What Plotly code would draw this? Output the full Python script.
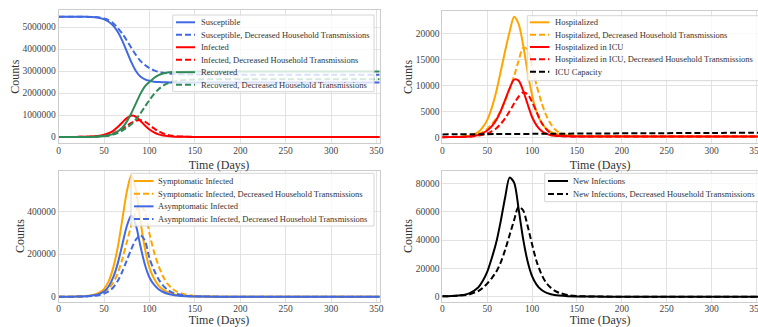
import plotly.graph_objects as go

W, H = 758, 327
FONT = "Liberation Serif, Times New Roman, DejaVu Serif, serif"
TXT = "#333333"
TICK = "#444444"
GRID = "#e2e2e2"
FRAME = "#cccccc"

BLUE = "#4169E1"
RED = "#FF0000"
GREEN = "#2E8B57"
ORANGE = "#FFA500"
BLACK = "#000000"

# ---------------- data ----------------
days = [0, 10, 20, 30, 40, 45, 50, 55, 60, 65, 70, 75, 80, 85, 90, 95, 100, 105,
        110, 115, 120, 125, 130, 140, 150, 160, 180, 200, 250, 300, 360]

susceptible = [5470000, 5470000, 5468000, 5462000, 5440000, 5410000, 5350000, 5240000, 5060000, 4780000,
               4380000, 3890000, 3400000, 3000000, 2750000, 2620000, 2555000, 2515000, 2495000, 2487000,
               2483000, 2481000, 2480000, 2479000, 2479000, 2478000, 2478000, 2478000, 2478000, 2478000, 2478000]
susceptible_dec = [5470000, 5470000, 5469000, 5465000, 5450000, 5430000, 5390000, 5310000, 5170000, 4960000,
                   4700000, 4390000, 4050000, 3730000, 3460000, 3270000, 3130000, 3030000, 2960000, 2920000,
                   2890000, 2870000, 2860000, 2845000, 2840000, 2838000, 2836000, 2835000, 2835000, 2835000, 2835000]
infected = [0, 2000, 5000, 12000, 35000, 60000, 100000, 170000, 280000, 450000, 660000, 860000, 970000,
            920000, 740000, 520000, 340000, 210000, 120000, 70000, 40000, 25000, 15000, 6000, 3000, 1000,
            0, 0, 0, 0, 0]
infected_dec = [0, 2000, 4000, 10000, 25000, 40000, 65000, 100000, 160000, 250000, 370000, 510000, 640000,
                740000, 770000, 700000, 550000, 390000, 260000, 160000, 100000, 60000, 35000, 12000, 4000,
                2000, 0, 0, 0, 0, 0]
recovered = [0, 0, 2000, 5000, 15000, 30000, 50000, 80000, 140000, 250000, 420000, 700000, 1080000, 1520000,
             1960000, 2300000, 2500000, 2680000, 2810000, 2890000, 2930000, 2950000, 2960000, 2970000, 2975000,
             2978000, 2980000, 2980000, 2980000, 2980000, 2980000]
recovered_dec = [0, 0, 1000, 3000, 10000, 20000, 35000, 60000, 110000, 180000, 290000, 420000, 580000, 800000,
                 1070000, 1380000, 1680000, 1950000, 2170000, 2330000, 2440000, 2510000, 2550000, 2590000,
                 2610000, 2620000, 2625000, 2628000, 2630000, 2630000, 2630000]

hospitalized = [50, 60, 100, 300, 1000, 1900, 3300, 5600, 8700, 12600, 16600, 20300, 23200, 21800, 17800,
                12600, 8100, 4900, 2900, 1800, 1100, 750, 550, 350, 250, 210, 190, 180, 170, 165, 160]
hospitalized_dec = [50, 55, 80, 220, 600, 1000, 1600, 2500, 3600, 5100, 7000, 9300, 11800, 14700, 17200,
                    16900, 13600, 10000, 7000, 4500, 2800, 1600, 950, 400, 250, 210, 190, 180, 170, 165, 160]
icu = [30, 40, 60, 150, 450, 800, 1300, 2100, 3300, 5000, 7200, 9400, 11100, 10900, 9000, 6400, 3900, 2300,
       1300, 750, 450, 300, 230, 180, 160, 150, 150, 150, 150, 150, 150]
icu_dec = [30, 40, 55, 120, 320, 500, 750, 1150, 1700, 2550, 3650, 5000, 6500, 7800, 8600, 8300, 6800, 4900,
           3000, 1700, 900, 500, 300, 190, 160, 150, 150, 150, 150, 150, 150]
icu_capacity_days = [0, 60, 120, 180, 240, 300, 360]
icu_capacity = [560, 620, 680, 740, 790, 840, 890]

symptomatic = [0, 200, 800, 3000, 11000, 20000, 37000, 72000, 135000, 230000, 360000, 490000, 570000,
               500000, 355000, 225000, 135000, 85000, 52000, 33000, 21000, 13000, 8500, 3500, 1500, 600,
               100, 0, 0, 0, 0]
symptomatic_dec = [0, 150, 550, 2000, 7000, 12500, 22000, 38000, 65000, 110000, 175000, 255000, 335000,
                   400000, 430000, 395000, 295000, 210000, 145000, 95000, 60000, 38000, 24000, 9500, 3800,
                   1500, 250, 50, 0, 0, 0]
asymptomatic = [0, 150, 550, 2000, 7500, 13500, 25000, 48000, 90000, 155000, 242000, 330000, 380000,
                335000, 237000, 150000, 90000, 56000, 35000, 22000, 14000, 9000, 5600, 2300, 1000, 400,
                70, 0, 0, 0, 0]
asymptomatic_dec = [0, 100, 370, 1300, 4700, 8300, 15000, 25000, 43000, 73000, 117000, 170000, 223000,
                    267000, 288000, 262000, 180000, 125000, 82000, 52000, 32000, 20000, 13000, 5000, 2000,
                    800, 150, 30, 0, 0, 0]

new_infections = [300, 500, 1000, 2400, 6500, 11000, 17500, 27000, 38000, 53000, 70000, 84000, 80500,
                  62000, 41000, 25000, 14500, 8500, 5000, 3000, 1900, 1200, 800, 350, 200, 100, 50, 20, 0, 0, 0]
new_infections_dec = [300, 450, 800, 1600, 4000, 6200, 9200, 13000, 17500, 24000, 33000, 43500, 54000,
                      63500, 61000, 50000, 37000, 25000, 16500, 10500, 6800, 4300, 2800, 1100, 500, 250, 80,
                      30, 5, 0, 0]

x_ticks = [0, 50, 100, 150, 200, 250, 300, 350]
y_ticks_tl = [0, 1000000, 2000000, 3000000, 4000000, 5000000]
y_ticks_tr = [0, 5000, 10000, 15000, 20000]
y_ticks_bl = [0, 200000, 400000]
y_ticks_br = [0, 20000, 40000, 60000, 80000]

DASH = "6px,3px"

# ---------------- helpers ----------------
def fx(p):
    return p / W


def fy(p):
    return 1 - p / H


panels = [
    dict(sfx="", xdom=(58.7, 379.5), ydom=(10, 143.3), xr=(0, 353.4), yr=(-286400, 5772700),
         yt=y_ticks_tl, right=False,
         series=[("Susceptible", days, susceptible, BLUE, "solid"),
                 ("Susceptible, Decreased Household Transmissions", days, susceptible_dec, BLUE, DASH),
                 ("Infected", days, infected, RED, "solid"),
                 ("Infected, Decreased Household Transmissions", days, infected_dec, RED, DASH),
                 ("Recovered", days, recovered, GREEN, "solid"),
                 ("Recovered, Decreased Household Transmissions", days, recovered_dec, GREEN, DASH)],
         legend=dict(box=(172.7, 15, 374, 91.7), y0=22.3, dy=12.47, sx=(176, 195), tx=201)),
    dict(sfx="2", xdom=(442.3, 758), ydom=(10.5, 143.3), xr=(0, 351.7), yr=(-1154, 24385),
         yt=y_ticks_tr, right=True,
         series=[("Hospitalized", days, hospitalized, ORANGE, "solid"),
                 ("Hospitalized, Decreased Household Transmissions", days, hospitalized_dec, ORANGE, DASH),
                 ("Hospitalized in ICU", days, icu, RED, "solid"),
                 ("Hospitalized in ICU, Decreased Household Transmissions", days, icu_dec, RED, DASH),
                 ("ICU Capacity", icu_capacity_days, icu_capacity, BLACK, DASH)],
         legend=dict(box=(527.3, 15.7, 761, 80.7), y0=22.3, dy=12.35, sx=(530, 549.3), tx=555)),
    dict(sfx="3", xdom=(58.7, 379.5), ydom=(170.5, 301.7), xr=(0, 353.4), yr=(-23420, 591100),
         yt=y_ticks_bl, right=False,
         series=[("Symptomatic Infected", days, symptomatic, ORANGE, "solid"),
                 ("Symptomatic Infected, Decreased Household Transmissions", days, symptomatic_dec, ORANGE, DASH),
                 ("Asymptomatic Infected", days, asymptomatic, BLUE, "solid"),
                 ("Asymptomatic Infected, Decreased Household Transmissions", days, asymptomatic_dec, BLUE, DASH)],
         legend=dict(box=(131, 173.3, 374, 226), y0=181, dy=12.67, sx=(134, 153.5), tx=158.3)),
    dict(sfx="4", xdom=(442.3, 758), ydom=(170.5, 301.7), xr=(0, 351.7), yr=(-3527, 89030),
         yt=y_ticks_br, right=True,
         series=[("New Infections", days, new_infections, BLACK, "solid"),
                 ("New Infections, Decreased Household Transmissions", days, new_infections_dec, BLACK, DASH)],
         legend=dict(box=(544.7, 173.3, 761, 201.7), y0=181, dy=13, sx=(548, 568), tx=573)),
]

fig = go.Figure()
shapes = []
annotations = []
layout = {}

for p in panels:
    s = p["sfx"]
    for name, xs, ys, color, dash in p["series"]:
        fig.add_trace(go.Scatter(
            x=xs, y=ys, name=name, mode="lines", showlegend=False,
            line=dict(color=color, width=2, dash=dash, shape="spline", smoothing=0.8),
            xaxis="x" + s, yaxis="y" + s, hoverinfo="skip"))

    layout["xaxis" + s] = dict(
        domain=[fx(p["xdom"][0]), fx(p["xdom"][1])], range=list(p["xr"]), anchor="y" + s,
        tickvals=x_ticks, ticktext=[str(v) for v in x_ticks],
        showgrid=True, gridcolor=GRID, gridwidth=1, zeroline=False,
        showline=True, mirror=True, linecolor=FRAME, linewidth=1, ticks="",
        ticklabeloverflow="allow", ticklabelstandoff=-2,
        tickfont=dict(family=FONT, size=9.5, color=TICK), automargin=False,
        title=dict(text="Time (Days)", font=dict(family=FONT, size=12, color=TXT), standoff=5))
    layout["yaxis" + s] = dict(
        domain=[fy(p["ydom"][1]), fy(p["ydom"][0])], range=list(p["yr"]), anchor="x" + s,
        tickvals=p["yt"], ticktext=[str(v) for v in p["yt"]],
        showgrid=True, gridcolor=GRID, gridwidth=1, zeroline=False,
        showline=True, mirror=not p["right"], linecolor=FRAME, linewidth=1, ticks="",
        tickfont=dict(family=FONT, size=9.5, color=TICK), automargin=False,
        title=dict(text="Counts", font=dict(family=FONT, size=12, color=TXT), standoff=0))

    lg = p["legend"]
    bx0, by0, bx1, by1 = lg["box"]
    shapes.append(dict(type="rect", xref="paper", yref="paper",
                       x0=fx(bx0), x1=fx(bx1), y0=fy(by1), y1=fy(by0),
                       fillcolor="rgba(255,255,255,0.8)", line=dict(color="#d6d6d6", width=1),
                       layer="above"))
    for i, (name, xs, ys, color, dash) in enumerate(p["series"]):
        yy = lg["y0"] + i * lg["dy"]
        shapes.append(dict(type="line", xref="paper", yref="paper",
                           x0=fx(lg["sx"][0]), x1=fx(lg["sx"][1]), y0=fy(yy), y1=fy(yy),
                           line=dict(color=color, width=2, dash=dash), layer="above"))
        annotations.append(dict(xref="paper", yref="paper", x=fx(lg["tx"] - 2), y=fy(yy),
                                xanchor="left", yanchor="middle", showarrow=False, text=name,
                                font=dict(family=FONT, size=8.5, color=TXT)))

fig.update_layout(
    width=W, height=H, margin=dict(l=0, r=0, t=0, b=0),
    paper_bgcolor="white", plot_bgcolor="white",
    showlegend=False, shapes=shapes, annotations=annotations, **layout)

fig.write_html("out.html", config={"displayModeBar": False},
               post_script="document.body.style.margin='0px';document.body.style.padding='0px';")
